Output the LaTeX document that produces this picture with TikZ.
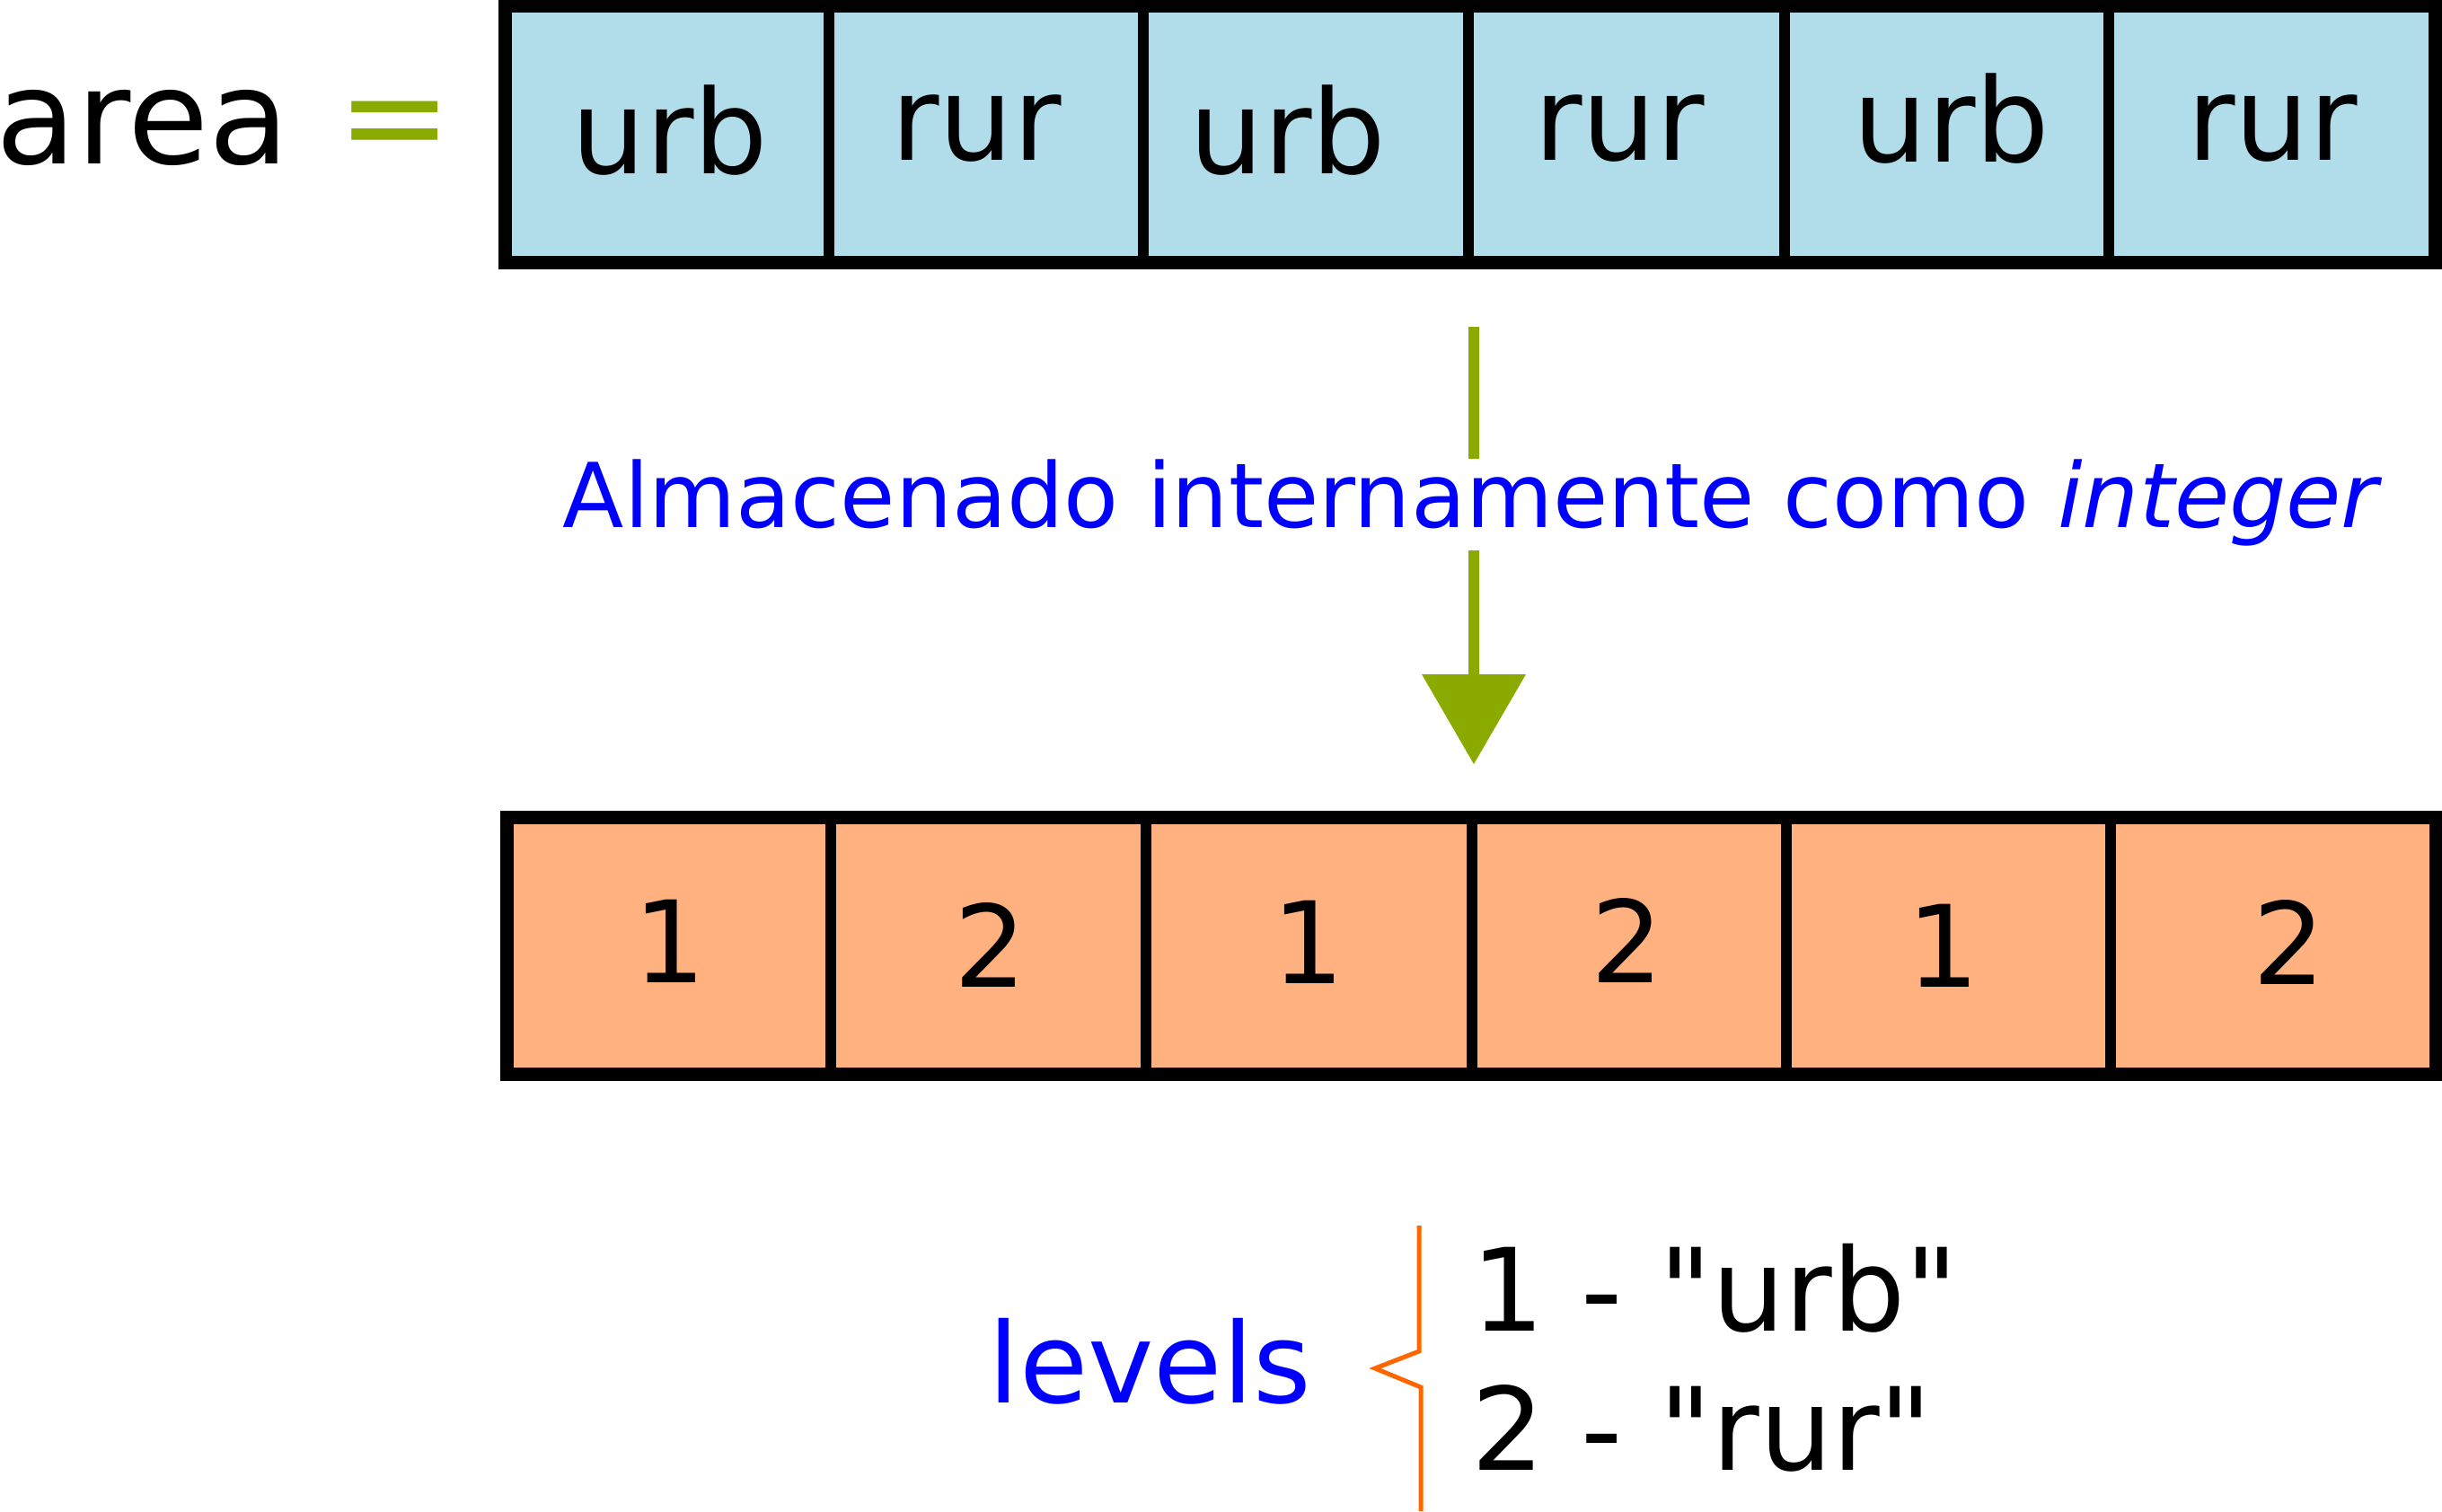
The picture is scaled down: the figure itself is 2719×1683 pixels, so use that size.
\documentclass[tikz,border=0pt]{standalone}
\usepackage{fontspec}
\setmainfont{DejaVu Sans}[Ligatures=TeXOff]
\definecolor{cellblue}{HTML}{B0DDE9}
\definecolor{cellorange}{HTML}{FFB27F}
\definecolor{arrowgreen}{HTML}{8AAA00}
\definecolor{braceorange}{HTML}{FF6600}
\definecolor{txtblue}{HTML}{0000FF}
\tikzset{
  cellA/.style={draw=black, line width=3.6pt, fill=cellblue, inner sep=0pt, outer sep=0pt, minimum height=85.65pt},
  cellB/.style={draw=black, line width=3.6pt, fill=cellorange, inner sep=0pt, outer sep=0pt, minimum height=85.8pt},
  outerbox/.style={draw=black, line width=4.5pt},
  celltext/.style={anchor=base, inner sep=0pt, font=\fontsize{39pt}{46pt}\selectfont},
  digittext/.style={anchor=base, inner sep=0pt, font=\fontsize{38pt}{46pt}\selectfont},
  shaft/.style={draw=arrowgreen, line width=3.6pt},
  bracketline/.style={draw=braceorange, line width=1.5pt, line join=miter},
}
\begin{document}
\begin{tikzpicture}[x=0.3pt, y=-0.3pt]
\useasboundingbox (0,0) rectangle (2719,1683);

% label "area ="
\node[anchor=base west, inner sep=0pt, font=\fontsize{44pt}{53pt}\selectfont] (area) at (-5,182) {area};
\node[anchor=base, inner sep=0pt, text=arrowgreen, font=\fontsize{45.9pt}{55pt}\selectfont] (eq) at (440,182) {=};

% top row
\node[cellA, minimum width=108.3pt] (t1) at (742.5,149.25) {};
\node[cellA, minimum width=105pt]   (t2) at (1098,149.25) {};
\node[cellA, minimum width=108.6pt] (t3) at (1454,149.25) {};
\node[cellA, minimum width=105.6pt] (t4) at (1811,149.25) {};
\node[cellA, minimum width=108.3pt] (t5) at (2167.5,149.25) {};
\node[cellA, minimum width=108.9pt] (t6) at (2529.5,149.25) {};
\draw[outerbox] (t1.north west) rectangle (t6.south east);
\node[celltext] (tt1) at (746,193) {urb};
\node[celltext] (tt2) at (1087,178) {rur};
\node[celltext] (tt3) at (1434,193) {urb};
\node[celltext] (tt4) at (1803,178) {rur};
\node[celltext] (tt5) at (2173,180) {urb};
\node[celltext] (tt6) at (2530,178) {rur};

% arrow with text
\node[anchor=base, inner sep=0pt, text=txtblue, font=\fontsize{29.9pt}{36pt}\selectfont] (txt) at (1640,587) {Almacenado internamente como \textit{integer}};
\coordinate (atop) at (1641,364);
\coordinate (hbase) at (1641,752);
\coordinate (tip) at (1641,851);
\draw[shaft] (atop) -- (txt.north -| atop);
\draw[shaft] ([yshift=-1.5pt]txt.south -| atop) -- (hbase);
\fill[arrowgreen] (1583,751) -- (1699,751) -- (tip) -- cycle;

% bottom row
\node[cellB, minimum width=108.3pt] (b1) at (744.5,1053) {};
\node[cellB, minimum width=105.3pt] (b2) at (1100.5,1053) {};
\node[cellB, minimum width=108.9pt] (b3) at (1457.5,1053) {};
\node[cellB, minimum width=105pt]   (b4) at (1814,1053) {};
\node[cellB, minimum width=108.3pt] (b5) at (2169.5,1053) {};
\node[cellB, minimum width=108.6pt] (b6) at (2531,1053) {};
\draw[outerbox] (b1.north west) rectangle (b6.south east);
\node[digittext] (bt1) at (746,1094) {1};
\node[digittext] (bt2) at (1103,1099) {2};
\node[digittext] (bt3) at (1457,1095) {1};
\node[digittext] (bt4) at (1812,1094) {2};
\node[digittext] (bt5) at (2164,1099) {1};
\node[digittext] (bt6) at (2549,1096) {2};

% levels
\node[anchor=base west, inner sep=0pt, text=txtblue, font=\fontsize{37.2pt}{45pt}\selectfont] (levels) at (1100,1562) {levels};
\coordinate (brtop) at (1580,1365);
\coordinate (brpt) at (1531,1524);
\coordinate (brbot) at (1582,1683);
\draw[bracketline] (brtop) -- (1580,1505) -- (brpt) -- (1582,1545) -- (brbot);
\node[anchor=base west, inner sep=0pt, font=\fontsize{38.4pt}{46pt}\selectfont] (lv1) at (1638,1482) {1 - "urb"};
\node[anchor=base west, inner sep=0pt, font=\fontsize{38.4pt}{46pt}\selectfont] (lv2) at (1638,1637) {2 - "rur"};
\end{tikzpicture}
\end{document}
